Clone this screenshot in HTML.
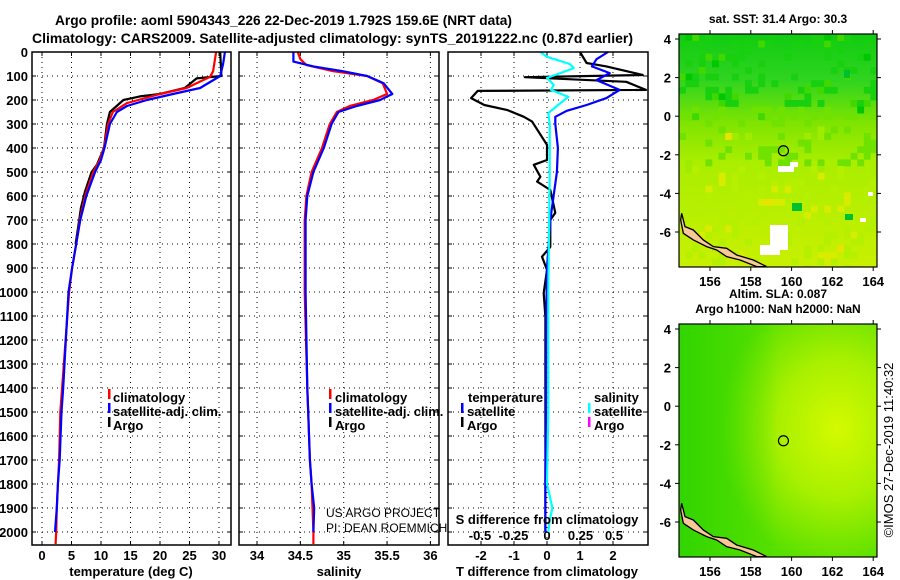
<!DOCTYPE html>
<html><head><meta charset="utf-8">
<style>
html,body{margin:0;padding:0;background:#fff;}
svg{display:block;font-family:"Liberation Sans",sans-serif;}
.b{font-weight:bold;}
</style></head>
<body>
<svg id="c" width="900" height="580" viewBox="0 0 900 580">
<defs>
<linearGradient id="sstg" x1="0" y1="0" x2="0" y2="1">
<stop offset="0" stop-color="#10cc10"/><stop offset="0.2" stop-color="#30d420"/>
<stop offset="0.38" stop-color="#7ee400"/><stop offset="0.55" stop-color="#aaee00"/>
<stop offset="1" stop-color="#c8f000"/></linearGradient>
<radialGradient id="slag" cx="0.8" cy="0.45" r="0.6">
<stop offset="0" stop-color="#d4fa00"/><stop offset="0.5" stop-color="#a8f000"/>
<stop offset="1" stop-color="#58e000"/></radialGradient>
<linearGradient id="slag2" x1="0" y1="0" x2="1" y2="0">
<stop offset="0" stop-color="#20d000" stop-opacity="0.7"/><stop offset="0.5" stop-color="#20d000" stop-opacity="0"/></linearGradient>
<clipPath id="sstclip"><rect x="679" y="34" width="198" height="233"/></clipPath>
</defs>
<g id="titles">
<text x="55" y="25" textLength="457" lengthAdjust="spacingAndGlyphs" class="b" font-size="14">Argo profile: aoml 5904343_226 22-Dec-2019 1.792S 159.6E (NRT data)</text>
<text x="32" y="43" textLength="601" lengthAdjust="spacingAndGlyphs" class="b" font-size="14">Climatology: CARS2009. Satellite-adjusted climatology: synTS_20191222.nc (0.87d earlier)</text>
</g>
<g id="plots"></g>
<g id="maps"></g>
<text transform="translate(893,450) rotate(-90)" text-anchor="middle" font-size="13">©IMOS 27-Dec-2019 11:40:32</text>
</svg>
<script>
// ---------- data ----------
const depthTicks=[0,100,200,300,400,500,600,700,800,900,1000,1100,1200,1300,1400,1500,1600,1700,1800,1900,2000];
const tempTicks=[0,5,10,15,20,25,30];
const salTicks=[34,34.5,35,35.5,36];
const salTickLabels=["34","34.5","35","35.5","36"];
const tdTicks=[-2,-1,0,1,2];
const sdTicks=[-0.5,-0.25,0,0.25,0.5];
const sdTickLabels=["-0.5","-0.25","0","0.25","0.5"];

const tClimD=[0,80,103,150,175,213,250,300,400,450,500,600,700,800,900,1000,1400,1500,1700,1800,1900,2000,2050];
const tClimV=[29.5,29,28.5,24.5,20,14.4,12,11.2,10.5,9.8,8.7,7.3,6.4,5.8,5.1,4.6,3.4,3.1,2.9,2.7,2.5,2.4,2.3];
const tSatD=[0,50,100,150,175,200,225,250,300,400,450,500,600,700,800,900,1000,1400,1500,1700,1800,1900,2000];
const tSatV=[31,30.7,30.2,26.8,22.2,17.8,14.4,12.7,11.5,10.6,10,9,7.5,6.5,5.8,5.1,4.5,3.6,3.3,3.0,2.7,2.5,2.2];
const tArgoD=[0,100,110,150,175,185,200,250,300,400,470,500,580,650,700,800];
const tArgoV=[30.2,30.4,26.2,24.2,20,16.6,13.8,11.5,11,10.5,9.3,8.4,7.3,6.6,6.3,5.7];

const sClimD=[0,30,54,80,100,130,175,200,225,250,300,400,500,600,700,1000,1400,1500,1700,1800,1900,2000,2050];
const sClimV=[34.47,34.5,34.57,34.88,35.27,35.45,35.5,35.34,35.07,34.92,34.84,34.75,34.63,34.57,34.55,34.55,34.58,34.59,34.61,34.63,34.64,34.65,34.65];
const sSatD=[0,40,60,80,100,130,175,200,225,250,300,400,500,600,700,1000,1400,1500,1700,1800,1900,2000];
const sSatV=[34.42,34.42,34.65,34.99,35.27,35.46,35.56,35.42,35.15,34.94,34.86,34.77,34.65,34.58,34.56,34.56,34.58,34.59,34.61,34.63,34.66,34.65];

const dtArgoD=[0,46,60,96,105,124,158,162,192,221,242,270,290,387,450,470,520,540,575,670,700,755,812,853,908,1004,1104,1300,1600,2000];
const dtArgoV=[1.0,1.2,1.8,2.9,-0.67,2.4,3.0,-2.1,-2.3,-1.9,-1.2,-0.7,-0.45,0,0,-0.4,-0.2,-0.3,0.1,0.25,0.1,0.1,0.1,-0.15,0,-0.1,-0.05,-0.05,-0.05,-0.05];
const dtSatD=[0,30,60,88,117,158,192,221,245,270,300,400,500,600,700,900,1100,1500,1800,2000];
const dtSatV=[1.85,1.5,1.36,1.9,1.5,2.2,1.8,1.2,0.6,0.25,0.25,0.33,0.3,0.2,0.1,0,-0.02,-0.03,-0.05,-0.05];
const dsSatD=[0,20,50,67,88,108,137,158,187,213,255,300,500,1000,1500,1800,1900,1950,2000];
const dsSatV=[-0.05,0,0.17,0.2,0.1,0,0.05,0.03,0.16,0.1,0.01,0.02,0.02,0.01,0.01,0,0.04,0.02,0.01];

const lonTicks=[156,158,160,162,164];
const latTicks=[4,2,0,-2,-4,-6];
const argoLon=159.6, argoLat=-1.792;

// ---------- helpers ----------
const NS="http://www.w3.org/2000/svg";
const plots=document.getElementById('plots');
const maps=document.getElementById('maps');
function mk(tag,attrs,parent){const e=document.createElementNS(NS,tag);for(const k in attrs)e.setAttribute(k,attrs[k]);(parent||plots).appendChild(e);return e;}
const yD=d=>52+0.24*d;
const xT=t=>42+5.9*t;
const xS=s=>257+86.7*(s-34);
const xDT=v=>547+33*v;
const xDS=v=>547+134*v;
const panels=[[32,231],[239,439],[448,648]];
const TOP=52,BOT=545;

depthTicks.forEach(d=>{const t=mk('text',{x:28,y:yD(d)+5,'text-anchor':'end','font-size':13,'class':'b'});t.textContent=d;

});

panels.forEach((p,i)=>{
  depthTicks.forEach(d=>{const l=mk('line',{x1:p[0],x2:p[1],y1:yD(d),y2:yD(d),stroke:'#000','stroke-width':1,'stroke-dasharray':'1 4'});
  
  
  mk('line',{x1:p[0],x2:p[0]+4,y1:yD(d),y2:yD(d),stroke:'#000'});mk('line',{x1:p[1]-4,x2:p[1],y1:yD(d),y2:yD(d),stroke:'#000'});});
});
function vgrid(xs,fn){xs.forEach(v=>{const x=fn(v);const l=mk('line',{x1:x,x2:x,y1:TOP,y2:BOT,stroke:'#000','stroke-dasharray':'1 4'});


mk('line',{x1:x,x2:x,y1:BOT-4,y2:BOT,stroke:'#000'});mk('line',{x1:x,x2:x,y1:TOP,y2:TOP+4,stroke:'#000'});});}
vgrid(tempTicks,xT);vgrid(salTicks,xS);vgrid(tdTicks,xDT);

function ticklabels(vals,labels,fn,y,name){vals.forEach((v,i)=>{const t=mk('text',{x:fn(v),y:y,'text-anchor':'middle','font-size':13,'class':'b'});t.textContent=labels?labels[i]:v;

});}
ticklabels(tempTicks,null,xT,560,'temperature-tick-label');
ticklabels(salTicks,salTickLabels,xS,560,'salinity-tick-label');
ticklabels(tdTicks,null,xDT,560,'t-diff-tick-label');
ticklabels(sdTicks,sdTickLabels,xDS,540,'s-diff-tick-label');

function line(D,V,fx,color,name,w){const pts=D.map((d,i)=>fx(V[i]).toFixed(1)+','+yD(d).toFixed(1)).join(' ');
const pl=mk('polyline',{points:pts,fill:'none',stroke:color,'stroke-width':w||2.2,'stroke-linejoin':'round'});

}
line(tArgoD,tArgoV,xT,'#000','temperature-argo-line');
line(tClimD,tClimV,xT,'#ff0000','temperature-climatology-line');
line(tSatD,tSatV,xT,'#0000ff','temperature-satellite-line');
line(sClimD,sClimV,xS,'#ff0000','salinity-climatology-line');
line(sSatD,sSatV,xS,'#0000ff','salinity-satellite-line');
line(dtArgoD,dtArgoV,xDT,'#000','t-diff-argo-line');
line(dtSatD,dtSatV,xDT,'#0000ff','t-diff-satellite-line');
line(dsSatD,dsSatV,xDS,'#00ffff','s-diff-satellite-line');

panels.forEach(p=>{const r=mk('rect',{x:p[0],y:TOP,width:p[1]-p[0],height:BOT-TOP,fill:'none',stroke:'#000','stroke-width':1.5});

});

function txt(x,y,s,name,opts){const t=mk('text',Object.assign({x:x,y:y,'font-size':13,'class':'b'},opts||{}));t.textContent=s;

return t;}
function mark(x,y,c){mk('rect',{x:x,y:y-11,width:2.5,height:10,fill:c});}
txt(131,576,'temperature (deg C)','temperature-axis-title',{'text-anchor':'middle'});
txt(339,576,'salinity','salinity-axis-title',{'text-anchor':'middle'});
txt(547,576,'T difference from climatology','t-diff-axis-title',{'text-anchor':'middle'});
txt(547,524,'S difference from climatology','s-diff-axis-title',{'text-anchor':'middle'});
[[108,113],[329,335]].forEach((p,k)=>{
 mark(p[0],400,'#ff0000');txt(p[1],402,'climatology','legend-climatology');
 mark(p[0],414,'#0000ff');txt(p[1],416,'satellite-adj. clim.','legend-satellite');
 mark(p[0],428,'#000');txt(p[1],430,'Argo','legend-argo');});
txt(468,402,'temperature','legend-temperature-header');
mark(461,414,'#0000ff');txt(467,416,'satellite','legend-t-satellite');
mark(461,428,'#000');txt(467,430,'Argo','legend-t-argo');
txt(594,402,'salinity','legend-salinity-header');
mark(588,414,'#00ffff');txt(594,416,'satellite','legend-s-satellite');
mark(588,428,'#ff00ff');txt(594,430,'Argo','legend-s-argo');
txt(326,517,'US ARGO PROJECT','credit-project',{'class':'','font-size':12});
txt(326,532,'PI: DEAN ROEMMICH','credit-pi',{'class':'','font-size':12});

// ---------- maps ----------
const xLon=l=>710+20.4*(l-156);
function hash(i,j){let h=(i*374761393+j*668265263)>>>0;h=((h^(h>>>13))*1274126177)>>>0;return (h&1023)/1023;}
function mapPanel(top,fill,name,titles){
 const g=mk('g',{},maps);
 
 
 const yLat=la=>top+5+19.3*(4-la);
 mk('rect',{x:679,y:top,width:198,height:233,fill:fill},g);
 if(name==='sst-map'){
   const cells=mk('g',{'clip-path':'url(#sstclip)'},g);
   const cw=6.6,ch=6.6;
   for(let j=0;j<36;j++){for(let i=0;i<30;i++){const r=hash(i,j);
     if(r<0.55)continue;
     const f=j/35;
     let col;
     if(r>0.93) col=f<0.4?'#00c800':'#e8e400';
     else if(r>0.8) col=f<0.35?'#40d800':(f<0.6?'#a0ec00':'#d8ec00');
     else col=f<0.3?'#18d010':(f<0.55?'#70e200':'#b4f000');
     mk('rect',{x:679+i*cw,y:top+j*ch,width:cw+0.3,height:ch+0.3,fill:col},cells);}}
   [[778,166,16,6],[790,162,8,5],[770,225,18,25],[760,245,20,10],[860,218,6,4],[868,192,5,4]].forEach(r=>mk('rect',{x:r[0],y:r[1],width:r[2],height:r[3],fill:'#fff'},g));
   [[792,203,10,8],[845,214,8,6],[844,70,6,8]].forEach(r=>mk('rect',{x:r[0],y:r[1],width:r[2],height:r[3],fill:'#00c030'},g));
 } else {
   mk('rect',{x:679,y:top,width:198,height:233,fill:'url(#slag2)'},g);
 }
 const land="65,640 75,680 100,690 130,720 160,740 200,745 230,765 280,780 320,800 290,800 240,780 200,770 170,750 140,740 100,720 70,700 62,660";
 mk('polygon',{points:land,fill:'#f8c898',stroke:'#000','stroke-width':4,transform:`translate(660,${top-34}) scale(0.3333)`},g);
 const c=mk('circle',{cx:xLon(argoLon),cy:yLat(argoLat),r:5,fill:'none',stroke:'#000','stroke-width':1.2},g);
 
 
 mk('rect',{x:679,y:top,width:198,height:233,fill:'none',stroke:'#000','stroke-width':1.2},g);
 lonTicks.forEach(l=>{const x=xLon(l);mk('line',{x1:x,x2:x,y1:top,y2:top-4,stroke:'#000'},g);mk('line',{x1:x,x2:x,y1:top+233,y2:top+237,stroke:'#000'},g);
  const t=mk('text',{x:x,y:top+252,'text-anchor':'middle','font-size':13,'class':'b'},g);t.textContent=l;
  
  });
 latTicks.forEach(la=>{const y=yLat(la);mk('line',{x1:675,x2:679,y1:y,y2:y,stroke:'#000'},g);mk('line',{x1:877,x2:881,y1:y,y2:y,stroke:'#000'},g);
  const t=mk('text',{x:671,y:y+5,'text-anchor':'end','font-size':13,'class':'b'},g);t.textContent=la;
  
  });
 titles.forEach((s,i)=>{const t=mk('text',{x:778,y:top-(titles.length-i)*15+4,'text-anchor':'middle','font-size':12,'class':'b'},g);t.textContent=s;
  
  });
}
mapPanel(34,'url(#sstg)','sst-map',['sat. SST: 31.4 Argo: 30.3']);
mapPanel(324,'url(#slag)','sla-map',['Altim. SLA: 0.087','Argo h1000: NaN h2000: NaN']);
</script>
</body></html>
